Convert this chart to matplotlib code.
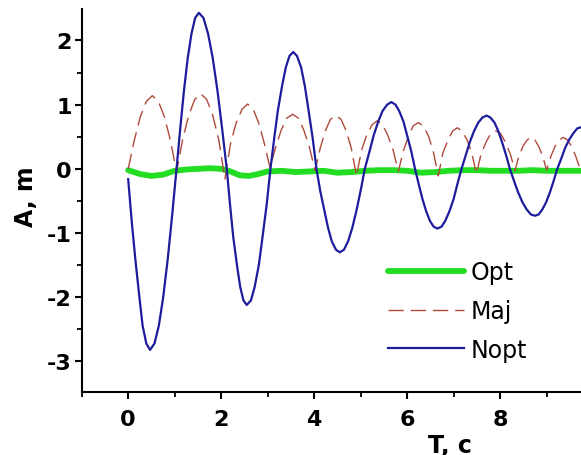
'''
Damped oscillation amplitude vs time
Opt / Maj / Nopt comparison
'''
# Import
import numpy as np
import matplotlib
matplotlib.use('Agg')
from matplotlib import pyplot as plt
from matplotlib.ticker import MultipleLocator

# Data
# Opt : thick green, stays close to zero
t_opt = [0.00, 0.25, 0.50, 0.75, 1.00, 1.25, 1.50, 1.75, 2.00, 2.20, 2.40, 2.60,
         2.80, 3.00, 3.30, 3.60, 3.90, 4.20, 4.50, 4.80, 5.10, 5.40, 5.70, 6.00,
         6.30, 6.60, 6.90, 7.20, 7.50, 7.80, 8.10, 8.40, 8.70, 9.00, 9.30, 9.75]
a_opt = [-0.02, -0.08, -0.11, -0.09, -0.03, -0.01, 0.00, 0.01, 0.00, -0.04, -0.10, -0.11,
         -0.08, -0.04, -0.03, -0.05, -0.04, -0.03, -0.06, -0.05, -0.03, -0.02, -0.02, -0.03,
         -0.06, -0.05, -0.03, -0.02, -0.02, -0.03, -0.03, -0.03, -0.02, -0.03, -0.03, -0.03]

# Maj : dashed, rectified arcs (one row per arc)
t_maj = [0.00, 0.13, 0.26, 0.39, 0.52, 0.65, 0.78, 0.91, 1.04,
         1.17, 1.30, 1.43, 1.56, 1.69, 1.82, 1.95, 2.08,
         2.20, 2.32, 2.45, 2.57, 2.69, 2.81, 2.93, 3.05,
         3.17, 3.29, 3.41, 3.54, 3.66, 3.78, 3.90, 4.02,
         4.13, 4.24, 4.35, 4.47, 4.58, 4.69, 4.80, 4.91,
         5.02, 5.13, 5.25, 5.36, 5.47, 5.58, 5.70, 5.81,
         5.92, 6.03, 6.13, 6.24, 6.35, 6.46, 6.56, 6.67,
         6.77, 6.88, 6.98, 7.08, 7.18, 7.29, 7.39, 7.49,
         7.59, 7.70, 7.80, 7.91, 8.01, 8.11, 8.22, 8.32,
         8.40, 8.49, 8.58, 8.66, 8.75, 8.83, 8.92, 9.00,
         9.09, 9.18, 9.27, 9.36, 9.45, 9.54, 9.63, 9.72]
a_maj = [0.00, 0.44, 0.81, 1.05, 1.14, 1.05, 0.81, 0.44, -0.05,
         0.45, 0.83, 1.08, 1.17, 1.08, 0.83, 0.45, -0.16,
         0.39, 0.71, 0.93, 1.01, 0.93, 0.71, 0.39, 0.02,
         0.33, 0.60, 0.79, 0.85, 0.79, 0.60, 0.33, -0.03,
         0.32, 0.59, 0.77, 0.83, 0.77, 0.59, 0.32, -0.11,
         0.29, 0.53, 0.69, 0.75, 0.69, 0.53, 0.29, -0.04,
         0.28, 0.51, 0.67, 0.72, 0.67, 0.51, 0.28, -0.11,
         0.25, 0.45, 0.59, 0.64, 0.59, 0.45, 0.25, -0.08,
         0.23, 0.42, 0.55, 0.59, 0.55, 0.42, 0.23, -0.03,
         0.19, 0.35, 0.45, 0.49, 0.45, 0.35, 0.19, -0.02,
         0.19, 0.35, 0.45, 0.49, 0.45, 0.35, 0.19, 0.00]

# Nopt : blue, large damped oscillation (one row per quarter swing)
t_nopt = [0.00, 0.08, 0.16, 0.24, 0.31, 0.39, 0.47,
          0.565, 0.66, 0.755, 0.85, 0.945, 1.04,
          1.12, 1.20, 1.28, 1.36, 1.44, 1.52,
          1.62, 1.72, 1.82, 1.92, 2.02, 2.12,
          2.19, 2.26, 2.34, 2.41, 2.48, 2.55,
          2.64, 2.72, 2.81, 2.89, 2.98, 3.06,
          3.14, 3.22, 3.31, 3.39, 3.47, 3.55,
          3.63, 3.72, 3.80, 3.88, 3.97, 4.05,
          4.13, 4.22, 4.30, 4.38, 4.47, 4.55,
          4.64, 4.73, 4.82, 4.91, 5.00, 5.09,
          5.19, 5.28, 5.38, 5.47, 5.57, 5.66,
          5.75, 5.83, 5.92, 6.00, 6.09, 6.17,
          6.25, 6.33, 6.41, 6.49, 6.57, 6.65,
          6.74, 6.82, 6.91, 7.00, 7.08, 7.17,
          7.26, 7.35, 7.44, 7.53, 7.62, 7.71,
          7.79, 7.88, 7.96, 8.04, 8.13, 8.21,
          8.30, 8.39, 8.48, 8.57, 8.66, 8.75,
          8.83, 8.91, 8.99, 9.07, 9.15, 9.23,
          9.32, 9.40, 9.49, 9.58, 9.66, 9.75]
a_nopt = [-0.16, -0.85, -1.45, -1.99, -2.44, -2.72, -2.82,
          -2.72, -2.44, -1.99, -1.41, -0.73, 0.00,
          0.63, 1.22, 1.72, 2.10, 2.35, 2.43,
          2.35, 2.10, 1.72, 1.22, 0.63, 0.00,
          -0.55, -1.06, -1.50, -1.84, -2.05, -2.12,
          -2.05, -1.84, -1.50, -1.06, -0.55, 0.00,
          0.47, 0.91, 1.29, 1.58, 1.76, 1.82,
          1.76, 1.58, 1.29, 0.91, 0.47, 0.00,
          -0.34, -0.65, -0.92, -1.13, -1.26, -1.30,
          -1.26, -1.13, -0.92, -0.65, -0.34, 0.00,
          0.27, 0.52, 0.74, 0.90, 1.00, 1.04,
          1.00, 0.90, 0.74, 0.52, 0.27, 0.00,
          -0.24, -0.47, -0.66, -0.81, -0.90, -0.93,
          -0.90, -0.81, -0.66, -0.47, -0.24, 0.00,
          0.21, 0.42, 0.59, 0.72, 0.80, 0.83,
          0.80, 0.72, 0.59, 0.42, 0.21, 0.00,
          -0.19, -0.37, -0.52, -0.63, -0.71, -0.73,
          -0.71, -0.63, -0.52, -0.37, -0.19, 0.00,
          0.17, 0.33, 0.46, 0.56, 0.63, 0.65]

labels = ['Opt', 'Maj', 'Nopt']
x_ticks = [0, 2, 4, 6, 8]
y_ticks = [-3, -2, -1, 0, 1, 2]

# Style
plt.rcParams['font.family'] = ['DejaVu Sans']
plt.rcParams['axes.unicode_minus'] = False

fig = plt.figure(figsize=(5.81, 4.56), dpi=100)
ax = fig.add_axes([0.1406, 0.1375, 0.8594, 0.8406])

ax.plot(t_opt, a_opt, color='#22dd22', lw=4.2, label=labels[0], solid_capstyle='round')
ax.plot(t_maj, a_maj, color='#b04a3c', lw=1.0, dashes=(11, 5), label=labels[1])
ax.plot(t_nopt, a_nopt, color='#1c1c9c', lw=1.6, label=labels[2])

ax.set_xlim(-1, 9.74)
ax.set_ylim(-3.48, 2.49)

# axes look
for s in ['top', 'right']:
    ax.spines[s].set_visible(False)
for s in ['left', 'bottom']:
    ax.spines[s].set_linewidth(1.5)

ax.set_xticks(x_ticks)
ax.set_yticks(y_ticks)
ax.xaxis.set_minor_locator(MultipleLocator(1))
ax.yaxis.set_minor_locator(MultipleLocator(0.5))
ax.tick_params(which='major', direction='out', length=5, width=1.5, labelsize=16)
ax.tick_params(which='minor', direction='out', length=3.5, width=1.3)
ax.tick_params(axis='x', which='major', pad=7)
ax.tick_params(axis='y', which='major', pad=2)
for lab in ax.get_xticklabels() + ax.get_yticklabels():
    lab.set_fontweight('bold')

ax.set_xlabel('T, c', fontsize=17, fontweight='bold')
ax.set_ylabel('A, m', fontsize=17, fontweight='bold')
ax.xaxis.set_label_coords(0.738, -0.105)
ax.yaxis.set_label_coords(-0.087, 0.512)

# legend
leg = fig.legend(loc='upper left', bbox_to_anchor=(0.668, 0.427), frameon=False,
                 fontsize=17, handlelength=3.2, handletextpad=0.3,
                 labelspacing=0.62, borderpad=0, borderaxespad=0)

fig.savefig('out.png', dpi=100)
